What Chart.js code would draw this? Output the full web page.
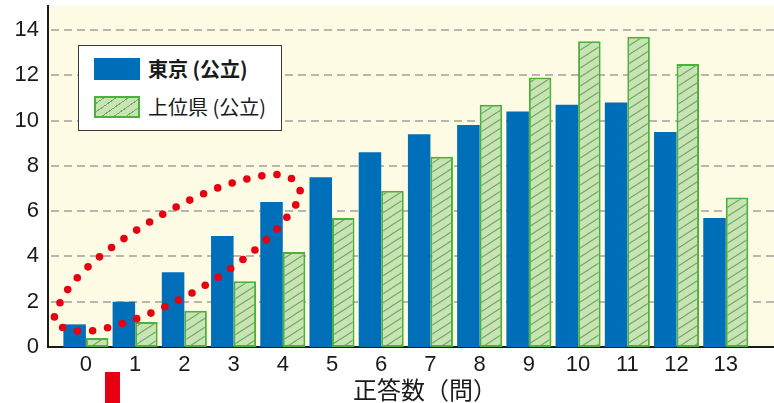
<!DOCTYPE html>
<html>
<head>
<meta charset="utf-8">
<script src="https://cdn.jsdelivr.net/npm/chart.js@4"></script>
<style>
  html, body { margin: 0; padding: 0; background: #fff; }
  #wrap { position: relative; width: 774px; height: 403px; }
  #legend {
    position: absolute; left: 78px; top: 45px; width: 202px; height: 84px;
    background: #fff; border: 1.5px solid #3a3a3a;
    font-family: "Noto Sans CJK JP", sans-serif; color: #1a1a1a;
  }
  .item { position: absolute; left: 15px; height: 22px; display: flex; align-items: center; }
  .sw { width: 46px; height: 22px; box-sizing: border-box; margin-right: 8px; }
  .lbl { font-size: 20px; line-height: 22px; white-space: nowrap; }
</style>
</head>
<body>
<div id="wrap">
  <canvas id="c" width="774" height="403"></canvas>
  <div id="legend">
    <div class="item" style="top:12px">
      <div class="sw" style="background:#006fba"></div>
      <div class="lbl" style="font-weight:700">東京 (公立)</div>
    </div>
    <div class="item" style="top:50px">
      <div class="sw" style="border:2px solid #4cb03c;background:repeating-linear-gradient(-35deg,#c9e3b6 0 6px,#6aae58 6px 7px)"></div>
      <div class="lbl">上位県 (公立)</div>
    </div>
  </div>
</div>
<script>
// Number of correct answers (questions) and share of students (%)
const categories = [0, 1, 2, 3, 4, 5, 6, 7, 8, 9, 10, 11, 12, 13];
const tickLabels = ['0', '1', '2', '3', '4', '5', '6', '7', '8', '9', '10', '11', '12', '13'];
const tokyo      = [1.0, 2.0, 3.3, 4.9, 6.4, 7.5, 8.6, 9.4, 9.8, 10.4, 10.7, 10.8, 9.5, 5.7];
const topPref    = [0.4, 1.1, 1.6, 2.9, 4.2, 5.7, 6.9, 8.4, 10.7, 11.9, 13.5, 13.7, 12.5, 6.6];
const yTicks     = [0, 2, 4, 6, 8, 10, 12, 14];
const seriesNames = ['東京 (公立)', '上位県 (公立)'];
const axisTitle  = '正答数（問）';

// Dotted outline around the low-score region, in (answers, %) units
const outline = [
  [-0.64, 1.33], [-0.30, 2.74], [0.39, 4.18], [1.44, 5.71], [2.52, 6.89],
  [3.43, 7.50], [4.05, 7.57], [4.35, 6.93], [4.19, 6.04], [3.56, 4.52],
  [2.54, 2.88], [1.48, 1.65], [0.59, 0.94], [-0.03, 0.69], [-0.49, 0.88]
];
const outlineDots = 40;
// Red marker under the axis, in answer units
const markerAt = 0.54;

function hatchPattern(ctx) {
  const W = 14, H = 9;
  const c = document.createElement('canvas');
  c.width = W; c.height = H;
  const g = c.getContext('2d');
  g.fillStyle = '#c9e3b6';
  g.fillRect(0, 0, W, H);
  g.strokeStyle = '#6aae58';
  g.lineWidth = 1.1;
  g.beginPath();
  for (let k = -1; k <= 1; k++) {
    g.moveTo(-W, 2 * H + k * H);
    g.lineTo(2 * W, -H + k * H);
  }
  g.stroke();
  return ctx.createPattern(c, 'repeat');
}

const canvas = document.getElementById('c');
const ctx = canvas.getContext('2d');

// Cream plot area and dashed horizontal guides
const plotBackground = {
  id: 'plotBackground',
  beforeDraw(chart) {
    const a = chart.chartArea;
    const g = chart.ctx;
    const ys = chart.scales.y;
    g.save();
    g.fillStyle = '#fefbe4';
    g.fillRect(a.left, a.top, a.right - a.left, a.bottom - a.top);
    g.strokeStyle = '#b8b6ae';
    g.lineWidth = 2;
    g.setLineDash([8, 5]);
    yTicks.forEach(v => {
      if (v === 0) return;
      const y = Math.round(ys.getPixelForValue(v));
      g.beginPath();
      g.moveTo(a.left + 3, y);
      g.lineTo(a.right, y);
      g.stroke();
    });
    g.restore();
  }
};

function catmull(pts, steps) {
  const out = [];
  const n = pts.length;
  for (let i = 0; i < n; i++) {
    const p0 = pts[(i - 1 + n) % n], p1 = pts[i], p2 = pts[(i + 1) % n], p3 = pts[(i + 2) % n];
    for (let s = 0; s < steps; s++) {
      const t = s / steps, t2 = t * t, t3 = t2 * t;
      const f = (a, b, c, d) => 0.5 * (2 * b + (-a + c) * t + (2 * a - 5 * b + 4 * c - d) * t2 + (-a + 3 * b - 3 * c + d) * t3);
      out.push([f(p0[0], p1[0], p2[0], p3[0]), f(p0[1], p1[1], p2[1], p3[1])]);
    }
  }
  return out;
}

const annotations = {
  id: 'annotations',
  afterDatasetsDraw(chart) {
    const xs = chart.scales.x, ys = chart.scales.y;
    const g = chart.ctx;
    const px = outline.map(([x, y]) => [xs.getPixelForValue(x), ys.getPixelForValue(y)]);
    const path = catmull(px, 40);
    path.push(path[0]);
    const cum = [0];
    for (let i = 1; i < path.length; i++) {
      cum.push(cum[i - 1] + Math.hypot(path[i][0] - path[i - 1][0], path[i][1] - path[i - 1][1]));
    }
    const total = cum[cum.length - 1];
    g.save();
    g.fillStyle = '#e60012';
    let j = 1;
    for (let k = 0; k < outlineDots; k++) {
      const d = k * total / outlineDots;
      while (cum[j] < d) j++;
      const r = (d - cum[j - 1]) / (cum[j] - cum[j - 1] || 1);
      const x = path[j - 1][0] + r * (path[j][0] - path[j - 1][0]);
      const y = path[j - 1][1] + r * (path[j][1] - path[j - 1][1]);
      g.beginPath();
      g.arc(x, y, 3.8, 0, Math.PI * 2);
      g.fill();
    }
    g.restore();
  },
  afterDraw(chart) {
    const xs = chart.scales.x;
    const g = chart.ctx;
    g.save();
    const mx = xs.getPixelForValue(markerAt);
    g.fillStyle = '#e60012';
    g.fillRect(mx - 7.5, 372, 15, 31);
    g.fillStyle = '#1a1a1a';
    g.font = '24px "Noto Sans CJK JP"';
    const w = g.measureText(axisTitle).width;
    const chars = Array.from(axisTitle);
    if (w < 144 && 'letterSpacing' in g) g.letterSpacing = ((144 - w) / (chars.length - 1)) + 'px';
    g.textAlign = 'left';
    g.textBaseline = 'middle';
    g.fillText(axisTitle, 353, 390);
    g.restore();
  }
};

new Chart(ctx, {
  type: 'bar',
  data: {
    datasets: [
      {
        label: seriesNames[0],
        data: categories.map((c, i) => ({ x: c, y: tokyo[i] })),
        backgroundColor: '#006fba',
        borderWidth: 0
      },
      {
        label: seriesNames[1],
        data: categories.map((c, i) => ({ x: c, y: topPref[i] })),
        backgroundColor: hatchPattern(ctx),
        borderColor: '#4cb03c',
        borderWidth: 2,
        borderSkipped: false
      }
    ]
  },
  options: {
    responsive: false,
    animation: false,
    events: [],
    layout: { padding: { top: 6, left: 0, right: 0, bottom: 0 } },
    datasets: { bar: { categoryPercentage: 0.915, barPercentage: 1.0 } },
    plugins: { legend: { display: false }, tooltip: { enabled: false } },
    font: { family: '"Liberation Sans", Arial, sans-serif' },
    scales: {
      x: {
        type: 'linear',
        offset: false,
        min: -0.77,
        max: 13.98,
        afterBuildTicks(scale) { scale.ticks = categories.map(v => ({ value: v })); },
        afterFit(scale) { scale.height = 56; scale.paddingLeft = 0; scale.paddingRight = 0; },
        ticks: {
          padding: 5,
          color: '#1a1a1a',
          font: { size: 22, family: '"Liberation Sans", Arial, sans-serif' },
          callback: (v) => tickLabels[categories.indexOf(v)]
        },
        grid: { display: false, drawTicks: false },
        border: { display: true, color: '#1a1a1a', width: 2 }
      },
      y: {
        min: 0,
        max: 15.06,
        afterBuildTicks(scale) { scale.ticks = yTicks.map(v => ({ value: v })); },
        afterFit(scale) { scale.width = 48; scale.paddingTop = 0; scale.paddingBottom = 0; },
        ticks: {
          padding: 9,
          color: '#1a1a1a',
          font: { size: 22, family: '"Liberation Sans", Arial, sans-serif' }
        },
        grid: { display: false, drawTicks: false },
        border: { display: true, color: '#1a1a1a', width: 2 }
      }
    }
  },
  plugins: [plotBackground, annotations]
});
</script>
</body>
</html>
